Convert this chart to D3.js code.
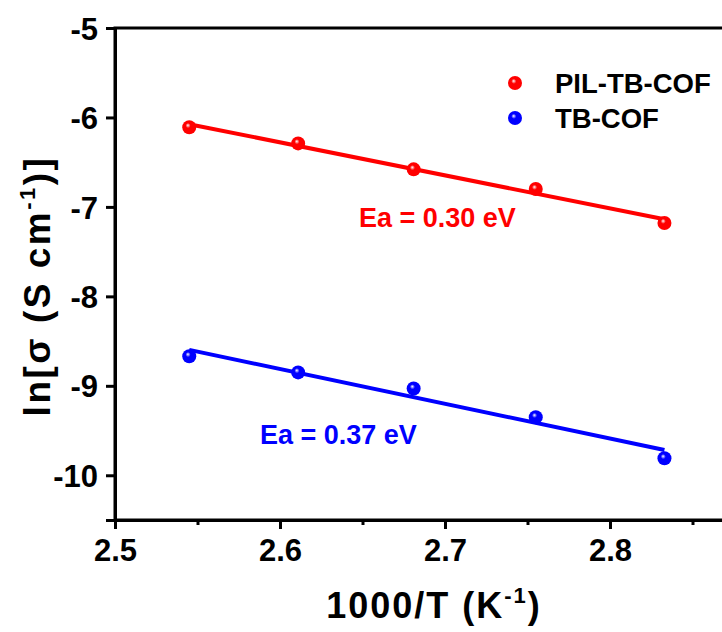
<!DOCTYPE html>
<html lang="en">
<head>
    <meta charset="UTF-8">
    <title>Arrhenius plot - PIL-TB-COF vs TB-COF</title>
    <script src="https://d3js.org/d3.v7.min.js"></script>
    <style>
        body {
            margin: 0;
            padding: 0;
            background-color: white;
        }
        svg text {
            font-family: 'Liberation Sans', Arial, sans-serif;
            font-weight: bold;
        }
    </style>
</head>
<body>
    <div id="chart"></div>
    <script>
        // 1000/T values (K^-1)
        var invT = [2.545, 2.611, 2.681, 2.755, 2.833];
        // ln(sigma) values
        var pilTbCof = [-6.11, -6.29, -6.58, -6.80, -7.18];
        var tbCof = [-8.67, -8.85, -9.03, -9.35, -9.81];
        var seriesNames = ["PIL-TB-COF", "TB-COF"];
        var seriesColors = ["#ff0000", "#0000ff"];
        var eaLabels = ["Ea = 0.30 eV", "Ea = 0.37 eV"];
        var xTicks = [2.5, 2.6, 2.7, 2.8];
        var xMinorTicks = [2.55, 2.65, 2.75, 2.85];
        var yTicks = [-5, -6, -7, -8, -9, -10];

        var width = 722, height = 632;

        var svg = d3.select("#chart")
            .append("svg")
            .attr("width", width)
            .attr("height", height);

        // x axis runs to 2.9 which is past the right edge of the image
        var x = d3.scaleLinear().domain([2.5, 2.9]).range([115, 775]);
        var y = d3.scaleLinear().domain([-10.5, -5]).range([520, 28]);

        // ball-like marker gradients
        var defs = svg.append("defs");
        seriesColors.forEach(function (c, i) {
            var g = defs.append("radialGradient")
                .attr("id", "ball" + i)
                .attr("cx", "45%").attr("cy", "45%")
                .attr("fx", "40%").attr("fy", "35%")
                .attr("r", "60%");
            g.append("stop").attr("offset", "0%").attr("stop-color", "#ffffff");
            g.append("stop").attr("offset", "30%").attr("stop-color", c);
            g.append("stop").attr("offset", "100%").attr("stop-color", c);
        });

        // frame
        svg.append("rect")
            .attr("x", x(2.5))
            .attr("y", y(-5))
            .attr("width", x(2.9) - x(2.5))
            .attr("height", y(-10.5) - y(-5))
            .attr("fill", "none")
            .attr("stroke", "black")
            .attr("stroke-width", 3);

        // axes
        var xAxis = svg.append("g")
            .attr("transform", "translate(0," + y(-10.5) + ")")
            .call(d3.axisBottom(x).tickValues(xTicks).tickSize(9).tickPadding(10)
                .tickFormat(d3.format(".1f")));
        xAxis.selectAll("text").style("font-size", "31px").attr("dy", "0.71em");

        svg.append("g")
            .attr("transform", "translate(0," + y(-10.5) + ")")
            .call(d3.axisBottom(x).tickValues(xMinorTicks).tickSize(5).tickFormat(""))
            .call(function (g) { g.select(".domain").remove(); })
            .selectAll("line").attr("stroke-width", 3);

        var yAxis = svg.append("g")
            .attr("transform", "translate(" + x(2.5) + ",0)")
            .call(d3.axisLeft(y).tickValues(yTicks).tickSize(9).tickPadding(8)
                .tickFormat(function (d) { return String(d); }));
        yAxis.selectAll("text").style("font-size", "31px").attr("dy", "0.36em");

        [xAxis, yAxis].forEach(function (a) {
            a.select(".domain").attr("stroke-width", 3);
            a.selectAll(".tick line").attr("stroke-width", 3);
            a.selectAll("text").attr("fill", "black");
        });

        // series: linear fit lines + points
        var allSeries = [pilTbCof, tbCof];
        allSeries.forEach(function (vals, i) {
            var mx = d3.mean(invT), my = d3.mean(vals);
            var sxy = d3.sum(invT, function (d, k) { return (d - mx) * (vals[k] - my); });
            var sxx = d3.sum(invT, function (d) { return (d - mx) * (d - mx); });
            var slope = sxy / sxx;
            var x0 = invT[0], x1 = invT[invT.length - 1];
            svg.append("line")
                .attr("x1", x(x0)).attr("y1", y(my + slope * (x0 - mx)))
                .attr("x2", x(x1)).attr("y2", y(my + slope * (x1 - mx)))
                .attr("stroke", seriesColors[i])
                .attr("stroke-width", 4);

            svg.selectAll(".pt" + i)
                .data(vals)
                .enter()
                .append("circle")
                .attr("class", "pt" + i)
                .attr("cx", function (d, k) { return x(invT[k]); })
                .attr("cy", function (d) { return y(d); })
                .attr("r", 7)
                .attr("fill", "url(#ball" + i + ")");
        });

        // Ea annotations
        svg.append("text")
            .attr("x", 359).attr("y", 227)
            .attr("fill", seriesColors[0])
            .style("font-size", "27px")
            .text(eaLabels[0]);
        svg.append("text")
            .attr("x", 260).attr("y", 444)
            .attr("fill", seriesColors[1])
            .style("font-size", "27px")
            .text(eaLabels[1]);

        // legend
        var legend = svg.append("g");
        seriesNames.forEach(function (name, i) {
            legend.append("circle")
                .attr("cx", 515).attr("cy", 83 + i * 35)
                .attr("r", 7)
                .attr("fill", "url(#ball" + i + ")");
            legend.append("text")
                .attr("x", 555).attr("y", 93 + i * 35)
                .attr("fill", "black")
                .style("font-size", "27.5px")
                .text(name);
        });

        // axis titles
        var xt = svg.append("text")
            .attr("x", 434).attr("y", 618)
            .attr("text-anchor", "middle")
            .attr("fill", "black")
            .style("font-size", "36px")
            .style("letter-spacing", "2px");
        xt.append("tspan").text("1000/T (K");
        xt.append("tspan").attr("dy", -15).style("font-size", "22px").text("-1");
        xt.append("tspan").attr("dy", 15).text(")");

        var yt = svg.append("text")
            .attr("transform", "translate(50,286) rotate(-90)")
            .attr("text-anchor", "middle")
            .attr("fill", "black")
            .style("font-size", "37px")
            .style("letter-spacing", "2.5px");
        yt.append("tspan").text("ln[σ (S cm");
        yt.append("tspan").attr("dy", -15).style("font-size", "22px").text("-1");
        yt.append("tspan").attr("dy", 15).text(")]");
    </script>
</body>
</html>
